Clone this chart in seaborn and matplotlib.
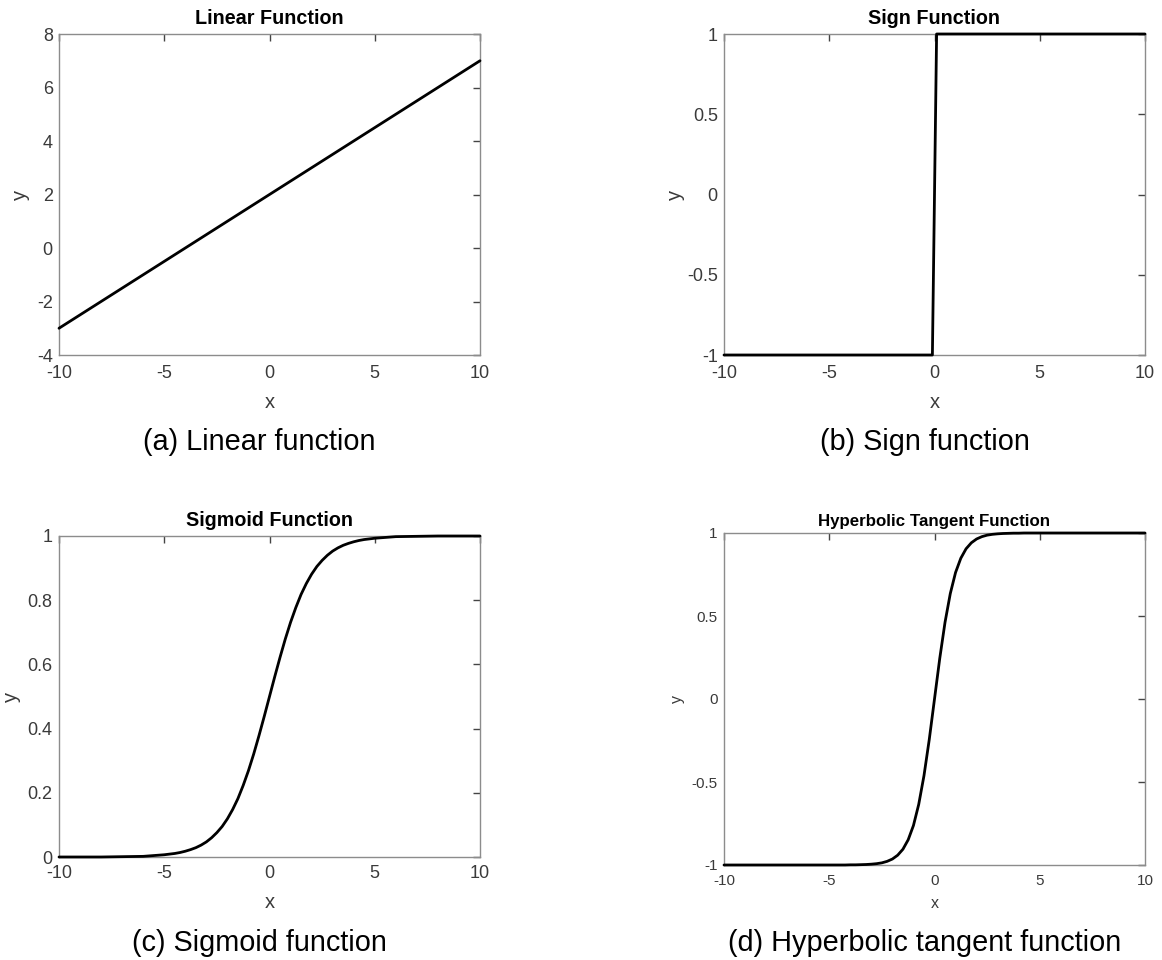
import matplotlib
matplotlib.use("Agg")
import matplotlib.pyplot as plt
import seaborn as sns
import pandas as pd

sns.set_theme(style="white")
plt.rcParams["font.family"] = ["Liberation Sans", "DejaVu Sans"]

# ---- data -------------------------------------------------------------
linear_x = [-10, -5, 0, 5, 10]
linear_y = [-3, -0.5, 2, 4.5, 7]

sign_x = [-10, -0.1, 0.1, 10]
sign_y = [-1, -1, 1, 1]

curve_x = [-10, -9, -8, -7, -6, -5,
           -4.75, -4.5, -4.25, -4, -3.75, -3.5, -3.25, -3, -2.75, -2.5,
           -2.25, -2, -1.75, -1.5, -1.25, -1, -0.75, -0.5, -0.25,
           0,
           0.25, 0.5, 0.75, 1, 1.25, 1.5, 1.75, 2, 2.25, 2.5,
           2.75, 3, 3.25, 3.5, 3.75, 4, 4.25, 4.5, 4.75,
           5, 6, 7, 8, 9, 10]

sigmoid_y = [0.000, 0.000, 0.000, 0.001, 0.002, 0.007,
             0.009, 0.011, 0.014, 0.018, 0.023, 0.029, 0.037, 0.047, 0.060, 0.076,
             0.095, 0.119, 0.148, 0.182, 0.223, 0.269, 0.321, 0.378, 0.438,
             0.500,
             0.562, 0.622, 0.679, 0.731, 0.777, 0.818, 0.852, 0.881, 0.905, 0.924,
             0.940, 0.953, 0.963, 0.971, 0.977, 0.982, 0.986, 0.989, 0.991,
             0.993, 0.998, 0.999, 1.000, 1.000, 1.000]

tanh_y = [-1.000, -1.000, -1.000, -1.000, -1.000, -1.000,
          -1.000, -1.000, -1.000, -0.999, -0.999, -0.998, -0.997, -0.995, -0.992, -0.987,
          -0.978, -0.964, -0.941, -0.905, -0.848, -0.762, -0.635, -0.462, -0.245,
          0.000,
          0.245, 0.462, 0.635, 0.762, 0.848, 0.905, 0.941, 0.964, 0.978, 0.987,
          0.992, 0.995, 0.997, 0.998, 0.999, 0.999, 1.000, 1.000, 1.000,
          1.000, 1.000, 1.000, 1.000, 1.000, 1.000]

x_ticks = [-10, -5, 0, 5, 10]
x_ticklabels = ["-10", "-5", "0", "5", "10"]
linear_yticks = [-4, -2, 0, 2, 4, 6, 8]
linear_yticklabels = ["-4", "-2", "0", "2", "4", "6", "8"]
pm_yticks = [-1, -0.5, 0, 0.5, 1]
pm_yticklabels = ["-1", "-0.5", "0", "0.5", "1"]
unit_yticks = [0, 0.2, 0.4, 0.6, 0.8, 1]
unit_yticklabels = ["0", "0.2", "0.4", "0.6", "0.8", "1"]

titles = ["Linear Function", "Sign Function", "Sigmoid Function",
          "Hyperbolic Tangent Function"]
captions = ["(a) Linear function", "(b) Sign function",
            "(c) Sigmoid function", "(d) Hyperbolic tangent function"]

# ---- figure -------------------------------------------------------------
W, H = 1162, 960
fig = plt.figure(figsize=(W / 100, H / 100), dpi=100)


def px_axes(left, top, right, bottom):
    return fig.add_axes([left / W, 1 - bottom / H, (right - left) / W, (bottom - top) / H])


panels = [
    dict(box=(59, 34, 480, 355), x=linear_x, y=linear_y, ylim=(-4, 8),
         yt=linear_yticks, ytl=linear_yticklabels, tick_fs=13, lab_fs=14.5,
         title_fs=14.2, title_off=16, xlab_off=47, ylab_x=-0.092, xpad=7.2,
         cap=(259.5, 442)),
    dict(box=(724, 34, 1145, 355), x=sign_x, y=sign_y, ylim=(-1, 1),
         yt=pm_yticks, ytl=pm_yticklabels, tick_fs=13, lab_fs=14.5,
         title_fs=14.2, title_off=16, xlab_off=47, ylab_x=-0.115, xpad=7.2,
         cap=(925, 442)),
    dict(box=(59, 536, 480, 857), x=curve_x, y=sigmoid_y, ylim=(0, 1),
         yt=unit_yticks, ytl=unit_yticklabels, tick_fs=13, lab_fs=14.5,
         title_fs=14.2, title_off=16, xlab_off=45, ylab_x=-0.112, xpad=6.0,
         cap=(259.5, 943)),
    dict(box=(724, 533, 1145, 865), x=curve_x, y=tanh_y, ylim=(-1, 1),
         yt=pm_yticks, ytl=pm_yticklabels, tick_fs=11, lab_fs=11.5,
         title_fs=12.2, title_off=11.5, xlab_off=38, ylab_x=-0.11, xpad=6.8,
         cap=(925, 943)),
]

spine_col = "#8c8c8c"
text_col = "#3a3a3a"

for p, title, cap in zip(panels, titles, captions):
    l, t, r, b = p["box"]
    ax = px_axes(l, t, r, b)
    df = pd.DataFrame({"x": p["x"], "y": p["y"]})
    sns.lineplot(data=df, x="x", y="y", ax=ax, color="black", linewidth=2.0,
                 estimator=None, sort=False, clip_on=False, zorder=5)
    ax.set_xlim(-10, 10)
    ax.set_ylim(*p["ylim"])
    ax.set_xticks(x_ticks)
    ax.set_xticklabels(x_ticklabels)
    ax.set_yticks(p["yt"])
    ax.set_yticklabels(p["ytl"])
    ax.set_facecolor("white")
    for s in ax.spines.values():
        s.set_visible(True)
        s.set_color(spine_col)
        s.set_linewidth(1.0)
    ax.tick_params(axis="both", direction="in", top=True, right=True,
                   length=5, width=1.0, color="#444444",
                   labelsize=p["tick_fs"], labelcolor=text_col)
    ax.tick_params(axis="x", pad=p["xpad"])
    ax.tick_params(axis="y", pad=4.5)
    ax.grid(False)

    ax.set_xlabel("x", fontsize=p["lab_fs"], color=text_col)
    ax.set_ylabel("y", fontsize=p["lab_fs"], color=text_col)
    ax.xaxis.set_label_coords(0.5, -p["xlab_off"] / (b - t))
    ax.xaxis.label.set_verticalalignment("center")
    ax.yaxis.set_label_coords(p["ylab_x"], 0.5)
    ax.yaxis.label.set_verticalalignment("center")

    ax.set_title(title, fontsize=p["title_fs"], fontweight="bold", color="black",
                 y=1 + p["title_off"] / (b - t), va="center", pad=0)

    cx, cy = p["cap"]
    fig.text(cx / W, 1 - cy / H, cap, ha="center", va="center",
             fontsize=20.8, color="black")

fig.savefig("out.png", dpi=100, facecolor="white")
